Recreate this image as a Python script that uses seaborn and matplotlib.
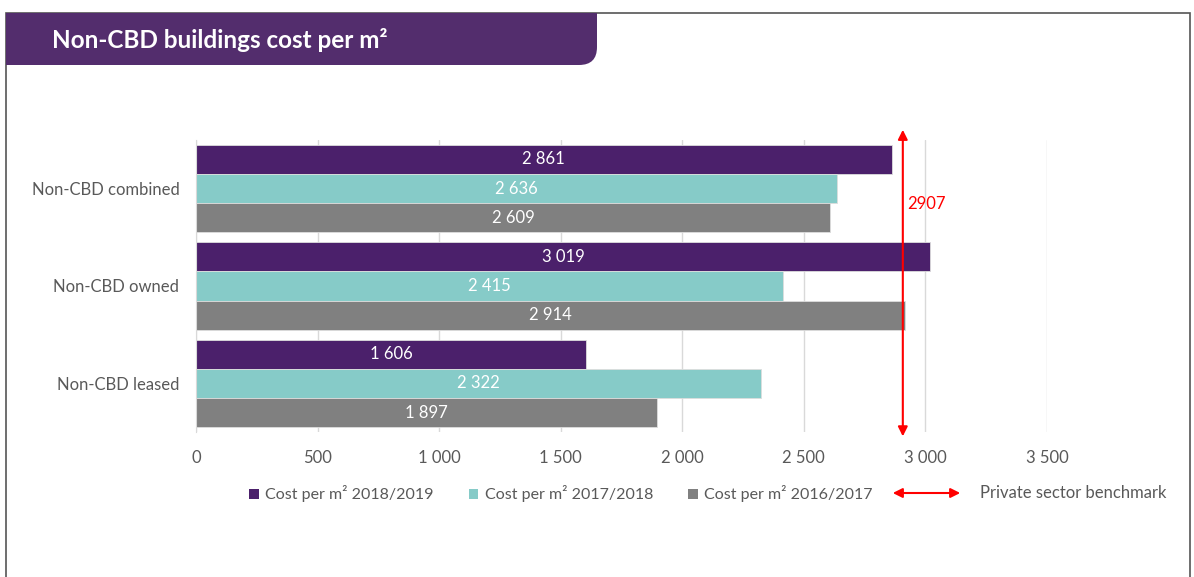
import pandas as pd
import matplotlib.pyplot as plt
import seaborn as sns
from matplotlib.patches import Patch, Rectangle, FancyBboxPatch, FancyArrowPatch
from matplotlib.ticker import FuncFormatter
from matplotlib.transforms import blended_transform_factory

# DATA

categories = ["Non-CBD combined", "Non-CBD owned", "Non-CBD leased"]
series = ["Cost per m\u00b2 2018/2019", "Cost per m\u00b2 2017/2018", "Cost per m\u00b2 2016/2017"]
cost_2018_19 = [2861, 3019, 1606]
cost_2017_18 = [2636, 2415, 2322]
cost_2016_17 = [2609, 2914, 1897]
benchmark = 2907
x_ticks = [0, 500, 1000, 1500, 2000, 2500, 3000, 3500]

colors = ["#4B206B", "#86CBC8", "#808080"]
text_grey = "#595959"

rows = []
for name, vals in zip(series, [cost_2018_19, cost_2017_18, cost_2016_17]):
    for cat, v in zip(categories, vals):
        rows.append({"category": cat, "series": name, "cost": v})
df = pd.DataFrame(rows)


def fmt(v):
    return f"{int(v):,}".replace(",", " ")


sns.set_style("white")
plt.rcParams["font.family"] = ["Lato", "DejaVu Sans"]

W, H = 1194, 577
fig = plt.figure(figsize=(W / 100, H / 100), dpi=100)


def fx(px):
    return px / W


def fy(py):
    return 1 - py / H


# frame and title banner
fig.add_artist(Rectangle((fx(6), fy(640)), fx(1184), fy(13) - fy(640),
                         transform=fig.transFigure, fill=False,
                         edgecolor="#555555", lw=1.2))
banner = "#532D6D"
fig.add_artist(FancyBboxPatch((fx(6), fy(65)), fx(591), fy(13) - fy(65),
                              boxstyle="round,pad=0,rounding_size=0.015",
                              transform=fig.transFigure, facecolor=banner,
                              edgecolor="none", mutation_aspect=W / H))
fig.add_artist(Rectangle((fx(6), fy(40)), fx(591), fy(13) - fy(40),
                         transform=fig.transFigure, facecolor=banner, edgecolor="none"))
fig.add_artist(Rectangle((fx(6), fy(65)), fx(560), fy(13) - fy(65),
                         transform=fig.transFigure, facecolor=banner, edgecolor="none"))
fig.text(fx(52), fy(40), "Non-CBD buildings cost per m\u00b2", color="white",
         fontsize=17.5, fontweight="bold", va="center", ha="left")

# CHART

ax = fig.add_axes([fx(196), fy(432), fx(851), fy(140) - fy(432)])

sns.barplot(
    data=df,
    y="category",
    x="cost",
    hue="series",
    hue_order=series,
    order=categories,
    palette=colors,
    width=0.9,
    saturation=1,
    gap=0,
    orient="h",
    ax=ax,
    legend=False,
    edgecolor="#DDDDDD",
    linewidth=0.6,
)

for cont in ax.containers:
    ax.bar_label(cont, labels=[fmt(b.get_width()) for b in cont],
                 label_type="center", color="white", fontsize=12)

ax.set_xlim(0, 3500)
ax.set_ylim(2.5, -0.5)
ax.set_xticks(x_ticks)
ax.xaxis.set_major_formatter(FuncFormatter(lambda v, p: fmt(v)))
ax.grid(axis="x", color="#D9D9D9", lw=1)
ax.set_axisbelow(True)
for s in ["top", "right", "bottom"]:
    ax.spines[s].set_visible(False)
ax.spines["left"].set_color("#D9D9D9")
ax.tick_params(axis="x", length=0, pad=13, labelsize=12, labelcolor=text_grey)
ax.tick_params(axis="y", length=0, pad=12, labelsize=12, labelcolor=text_grey)
ax.set_xlabel("")
ax.set_ylabel("")

# benchmark arrow
trans = blended_transform_factory(ax.transData, ax.transAxes)
ax.annotate("", xy=(benchmark, 1.035), xytext=(benchmark, -0.015),
            xycoords=trans, textcoords=trans, annotation_clip=False,
            arrowprops=dict(arrowstyle="<|-|>", color="red", lw=1.5,
                            mutation_scale=14, shrinkA=0, shrinkB=0))
ax.annotate(str(benchmark), xy=(benchmark, 0.78), xycoords=trans,
            xytext=(3, 0), textcoords="offset points",
            color="red", fontsize=12, va="center", ha="left")

# LEGEND

handles = [Patch(facecolor=c, edgecolor="none") for c in colors]
fig.legend(handles, series, loc="center left",
           bbox_to_anchor=(fx(249), fy(494)), ncol=3, frameon=False,
           handlelength=0.6, handleheight=0.6, handletextpad=0.4,
           columnspacing=2.2, labelcolor=text_grey, fontsize=11.5,
           borderaxespad=0, borderpad=0)
fig.add_artist(FancyArrowPatch(
    (fx(890), fy(493)), (fx(963), fy(493)), transform=fig.transFigure,
    arrowstyle="<|-|>", color="red", lw=1.5, mutation_scale=14))
fig.text(fx(980), fy(493), "Private sector benchmark", color=text_grey,
         fontsize=12, va="center", ha="left")

plt.savefig("out.png", dpi=100)
